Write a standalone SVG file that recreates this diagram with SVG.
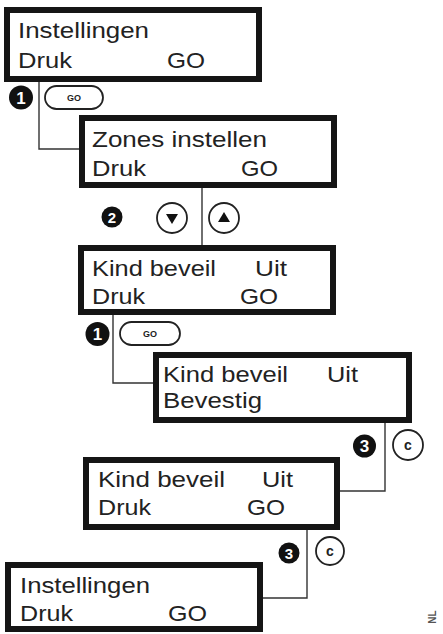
<svg xmlns="http://www.w3.org/2000/svg" width="443" height="634" viewBox="0 0 443 634">
<style>
.box{fill:#fff;stroke:#151515;stroke-width:6}
.t{font-family:"Liberation Sans",Arial,sans-serif;font-size:22px;fill:#222}
.con{fill:none;stroke:#333;stroke-width:1.4}
.num{fill:#111}
.numt{font-family:"Liberation Sans",Arial,sans-serif;font-weight:bold;font-size:17px;fill:#fff;text-anchor:middle}
.key{fill:#fff;stroke:#222;stroke-width:1.8}
.keyt{font-family:"Liberation Sans",Arial,sans-serif;font-weight:bold;font-size:9px;fill:#222;text-anchor:middle}
.ct{font-family:"Liberation Sans",Arial,sans-serif;font-weight:bold;font-size:14px;fill:#222;text-anchor:middle}
</style>
<rect width="443" height="634" fill="#fff"/>
<g id="connectors">
<polyline class="con" points="39,82 39,149 79,149"/>
<line class="con" x1="202" y1="188" x2="202" y2="245"/>
<polyline class="con" points="113,315 113,383 153,383"/>
<polyline class="con" points="385,423 385,491 340,491"/>
<polyline class="con" points="307,530 307,598 263,598"/>
</g>
<g id="box1">
<rect class="box" x="7" y="10" width="252" height="69"/>
<text class="t" x="18" y="38" textLength="131" lengthAdjust="spacingAndGlyphs">Instellingen</text>
<text class="t" x="18" y="68" textLength="54" lengthAdjust="spacingAndGlyphs">Druk</text>
<text class="t" x="167" y="68" textLength="38" lengthAdjust="spacingAndGlyphs">GO</text>
</g>
<g id="step1a">
<circle class="num" cx="21" cy="97.5" r="12"/>
<text class="numt" x="21" y="103.5">1</text>
<rect class="key" x="45" y="86" width="58" height="23" rx="11.5"/>
<text class="keyt" x="74" y="101">GO</text>
</g>
<g id="box2">
<rect class="box" x="82" y="118" width="252" height="67"/>
<text class="t" x="92" y="147" textLength="175" lengthAdjust="spacingAndGlyphs">Zones instellen</text>
<text class="t" x="92" y="176" textLength="54" lengthAdjust="spacingAndGlyphs">Druk</text>
<text class="t" x="241" y="176" textLength="37" lengthAdjust="spacingAndGlyphs">GO</text>
</g>
<g id="step2">
<circle class="num" cx="112" cy="217" r="10.5"/>
<text class="numt" x="112" y="222.5" style="font-size:15px">2</text>
<circle class="key" cx="172" cy="218" r="15"/>
<polygon fill="#111" points="166,214 178,214 172,224"/>
<circle class="key" cx="224" cy="218" r="15"/>
<polygon fill="#111" points="218,222 230,222 224,212"/>
</g>
<g id="box3">
<rect class="box" x="81" y="248" width="252" height="64"/>
<text class="t" x="92" y="276" textLength="124" lengthAdjust="spacingAndGlyphs">Kind beveil</text>
<text class="t" x="255" y="276" textLength="32" lengthAdjust="spacingAndGlyphs">Uit</text>
<text class="t" x="92" y="304" textLength="53" lengthAdjust="spacingAndGlyphs">Druk</text>
<text class="t" x="240" y="304" textLength="38" lengthAdjust="spacingAndGlyphs">GO</text>
</g>
<g id="step1b">
<circle class="num" cx="97.5" cy="334" r="12"/>
<text class="numt" x="97.5" y="340">1</text>
<rect class="key" x="120" y="322" width="60" height="23" rx="11.5"/>
<text class="keyt" x="150" y="337">GO</text>
</g>
<g id="box4">
<rect class="box" x="156" y="355" width="253" height="65"/>
<text class="t" x="163" y="382" textLength="125" lengthAdjust="spacingAndGlyphs">Kind beveil</text>
<text class="t" x="327" y="382" textLength="31" lengthAdjust="spacingAndGlyphs">Uit</text>
<text class="t" x="163" y="408" textLength="99" lengthAdjust="spacingAndGlyphs">Bevestig</text>
</g>
<g id="step3a">
<circle class="num" cx="364.5" cy="446" r="11.5"/>
<text class="numt" x="364.5" y="452">3</text>
<circle class="key" cx="408" cy="445" r="15"/>
<text class="ct" x="408" y="450">c</text>
</g>
<g id="box5">
<rect class="box" x="86" y="460" width="251" height="67"/>
<text class="t" x="98" y="487" textLength="127" lengthAdjust="spacingAndGlyphs">Kind beveil</text>
<text class="t" x="262" y="487" textLength="31" lengthAdjust="spacingAndGlyphs">Uit</text>
<text class="t" x="98" y="515" textLength="53" lengthAdjust="spacingAndGlyphs">Druk</text>
<text class="t" x="247" y="515" textLength="38" lengthAdjust="spacingAndGlyphs">GO</text>
</g>
<g id="step3b">
<circle class="num" cx="289" cy="553" r="10.5"/>
<text class="numt" x="289" y="558.5" style="font-size:15px">3</text>
<circle class="key" cx="330" cy="551" r="14"/>
<text class="ct" x="330" y="556">c</text>
</g>
<g id="box6">
<rect class="box" x="8" y="565" width="252" height="64"/>
<text class="t" x="20" y="593" textLength="130" lengthAdjust="spacingAndGlyphs">Instellingen</text>
<text class="t" x="20" y="621" textLength="53" lengthAdjust="spacingAndGlyphs">Druk</text>
<text class="t" x="168" y="621" textLength="39" lengthAdjust="spacingAndGlyphs">GO</text>
</g>
<text x="436" y="617" transform="rotate(-90 436 617)" text-anchor="middle" style="font-family:'Liberation Sans',Arial,sans-serif;font-weight:bold;font-size:10px;fill:#555">NL</text>
</svg>
